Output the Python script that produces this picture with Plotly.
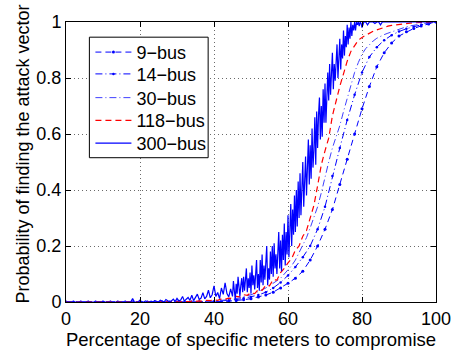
import plotly.graph_objects as go

# ---------------- data ----------------
x_ticks = [0, 20, 40, 60, 80, 100]
y_ticks = [0, 0.2, 0.4, 0.6, 0.8, 1]
y_ticktext = ["0", "0.2", "0.4", "0.6", "0.8", "1"]

series_names = ["9\u2212bus", "14\u2212bus", "30\u2212bus", "118\u2212bus", "300\u2212bus"]

# 9-bus, sampled every 2 %
p9 = [0, 0, 0, 0, 0, 0, 0, 0, 0, 0, 0, 0, 0, 0, 0, 0, 0, 0, 0, 0, 0.001,
      0.002, 0.003, 0.005, 0.008, 0.012, 0.018, 0.025, 0.035, 0.05, 0.067,
      0.085, 0.11, 0.15, 0.2, 0.26, 0.33, 0.42, 0.51, 0.6, 0.69,
      0.77, 0.84, 0.89, 0.925, 0.95, 0.965, 0.977, 0.986, 0.993, 1.0]

# 14-bus, sampled every 2 %
p14 = [0, 0, 0, 0, 0, 0, 0, 0, 0, 0, 0, 0, 0, 0, 0, 0, 0, 0, 0, 0,
       0.002, 0.004, 0.006, 0.009, 0.013, 0.018, 0.025, 0.035, 0.05, 0.07,
       0.095, 0.125, 0.16, 0.2, 0.26, 0.34, 0.45, 0.55, 0.65, 0.74,
       0.82, 0.875, 0.91, 0.935, 0.953, 0.966, 0.976, 0.984, 0.99, 0.995, 1.0]

# 30-bus, sampled every 1 %
p30 = [0, 0, 0, 0, 0, 0, 0, 0, 0, 0,
       0, 0, 0, 0, 0, 0, 0, 0, 0, 0,
       0, 0, 0, 0, 0, 0, 0, 0, 0, 0,
       0, 0, 0, 0, 0, 0.001, 0.001, 0.001, 0.002, 0.002,
       0.003, 0.004, 0.005, 0.006, 0.008, 0.01, 0.012, 0.015, 0.018, 0.022,
       0.026, 0.031, 0.037, 0.044, 0.05, 0.058, 0.066, 0.074, 0.085, 0.1,
       0.115, 0.13, 0.15, 0.175, 0.2, 0.23, 0.265, 0.3, 0.34, 0.39,
       0.45, 0.5, 0.55, 0.59, 0.63, 0.68, 0.73, 0.78, 0.82, 0.855,
       0.885, 0.905, 0.92, 0.932, 0.942, 0.95, 0.955, 0.96, 0.965, 0.97,
       0.975, 0.979, 0.983, 0.986, 0.989, 0.991, 0.993, 0.995, 0.997, 0.998, 1.0]

# 118-bus, sampled every 1 %
p118 = [0, 0, 0, 0, 0, 0, 0, 0, 0, 0,
        0, 0, 0, 0, 0, 0, 0, 0, 0, 0,
        0, 0, 0, 0, 0, 0, 0, 0, 0, 0,
        0.001, 0, 0.002, 0.001, 0.003, 0.002, 0.004, 0.003, 0.006, 0.005,
        0.008, 0.006, 0.011, 0.01, 0.014, 0.012, 0.02, 0.018, 0.026, 0.024,
        0.033, 0.03, 0.045, 0.042, 0.06, 0.058, 0.08, 0.078, 0.105, 0.12,
        0.14, 0.155, 0.185, 0.2, 0.235, 0.255, 0.3, 0.345, 0.415, 0.49,
        0.54, 0.585, 0.665, 0.72, 0.77, 0.815, 0.86, 0.895, 0.915, 0.935,
        0.945, 0.953, 0.96, 0.967, 0.972, 0.977, 0.981, 0.985, 0.988, 0.99,
        0.992, 0.994, 0.995, 0.996, 0.997, 0.998, 0.999, 0.999, 1.0, 1.0, 1.0]

# 300-bus: 0-44.5 % every 0.5 %
p300_lo = [0, 0, 0, 0, 0, 0, 0, 0, 0, 0,
           0, 0, 0, 0, 0, 0, 0, 0, 0, 0,
           0, 0, 0, 0, 0, 0, 0, 0, 0, 0,
           0, 0, 0, 0, 0, 0, 0.012, 0, 0, 0,
           0.007, 0, 0, 0.004, 0, 0, 0.003, 0, 0.005, 0.001,
           0, 0.006, 0.002, 0, 0.009, 0.003, 0, 0.004, 0.01, 0.002,
           0.013, 0.004, 0.007, 0.02, 0.003, 0.01, 0.016, 0.006, 0.024, 0.005,
           0.017, 0.028, 0.009, 0.014, 0.033, 0.011, 0.02, 0.042, 0.015, 0.026,
           0.058, 0.02, 0.034, 0.012, 0.05, 0.027, 0.068, 0.03, 0.018, 0.047]
# 300-bus: 45-79.75 % every 0.25 %
p300_mid = [0.02, 0.075, 0.04, 0.01, 0.065, 0.03, 0.09, 0.045,
            0.02, 0.06, 0.085, 0.035, 0.09, 0.04, 0.07, 0.12,
            0.035, 0.085, 0.05, 0.105, 0.03, 0.13, 0.06, 0.095,
            0.045, 0.12, 0.15, 0.05, 0.1, 0.04, 0.15, 0.07,
            0.17, 0.06, 0.13, 0.08, 0.15, 0.2, 0.06, 0.12,
            0.08, 0.18, 0.1, 0.2, 0.09, 0.21, 0.12, 0.17,
            0.1, 0.2, 0.25, 0.12, 0.22, 0.11, 0.24, 0.15,
            0.28, 0.13, 0.25, 0.17, 0.31, 0.16, 0.27, 0.35,
            0.2, 0.33, 0.24, 0.38, 0.25, 0.4, 0.27, 0.43,
            0.3, 0.46, 0.31, 0.42, 0.5, 0.34, 0.45, 0.52,
            0.38, 0.5, 0.58, 0.42, 0.56, 0.44, 0.62, 0.48,
            0.54, 0.66, 0.49, 0.68, 0.55, 0.67, 0.73, 0.58,
            0.7, 0.59, 0.76, 0.64, 0.78, 0.64, 0.74, 0.82,
            0.72, 0.85, 0.74, 0.81, 0.89, 0.76, 0.85, 0.79,
            0.87, 0.92, 0.8, 0.89, 0.94, 0.83, 0.92, 0.87,
            0.97, 0.88, 0.95, 0.91, 0.99, 0.92, 0.98, 0.94,
            1.0, 0.95, 0.99, 0.97, 1.0, 0.97, 1.0, 0.99,
            1.0, 0.985, 1.0, 0.995]
# 300-bus: 80-100 % every 0.5 %
p300_hi = [0.98, 1, 1, 0.99, 1, 1, 1, 0.995, 1, 1,
           0.99, 1, 1, 1, 1, 1, 1, 1, 1, 1,
           1, 1, 1, 1, 1, 1, 1, 1, 1, 1,
           1, 1, 1, 1, 1, 1, 1, 1, 1, 1, 1]

x9 = [2 * i for i in range(len(p9))]
x14 = [2 * i for i in range(len(p14))]
x30 = [i for i in range(len(p30))]
x118 = [i for i in range(len(p118))]
x300 = ([0.5 * i for i in range(len(p300_lo))]
        + [45 + 0.25 * i for i in range(len(p300_mid))]
        + [80 + 0.5 * i for i in range(len(p300_hi))])
p300 = p300_lo + p300_mid + p300_hi

# ---------------- figure ----------------
BLUE = "#0000FF"
RED = "#FF0000"
FONT = "Liberation Sans, Arial, Helvetica, sans-serif"

styles = [
    dict(mode="lines+markers", line=dict(color=BLUE, width=1, dash="6px,4px"),
         marker=dict(color=BLUE, size=3)),
    dict(mode="lines+markers", line=dict(color=BLUE, width=1, dash="7px,3px,1px,3px"),
         marker=dict(color=BLUE, size=2.5)),
    dict(mode="lines", line=dict(color="#3f3fff", width=1, dash="7px,3px,1px,3px")),
    dict(mode="lines", line=dict(color=RED, width=1.2, dash="6px,4px")),
    dict(mode="lines", line=dict(color=BLUE, width=1.2)),
]
xs = [x9, x14, x30, x118, x300]
ys = [p9, p14, p30, p118, p300]

fig = go.Figure()
legend_names = ["legend", "legend2", "legend3", "legend4", "legend5"]
for i in range(5):
    fig.add_trace(go.Scatter(x=xs[i], y=ys[i], name=series_names[i],
                             legend=legend_names[i], **styles[i]))

axis_common = dict(
    showline=True, linecolor="black", linewidth=1, mirror="ticks",
    ticks="inside", ticklen=5, tickcolor="black",
    showgrid=True, gridcolor="#6a6a6a", gridwidth=1, griddash="1px,3px",
    zeroline=False, tickfont=dict(family=FONT, size=18, color="black"),
)

# legend entries: one small legend per series, stacked inside a framed box
entry_y = [0.8915, 0.8136, 0.7288, 0.6475, 0.5661]
legend_layout = {}
for i, ln in enumerate(legend_names):
    legend_layout[ln] = dict(x=0.066, y=entry_y[i], xanchor="left", yanchor="middle",
                             bgcolor="rgba(0,0,0,0)", borderwidth=0,
                             font=dict(family=FONT, size=18, color="black"),
                             itemwidth=36)

fig.update_layout(
    width=463, height=356,
    margin=dict(l=66, r=17, t=12, b=49),
    paper_bgcolor="white", plot_bgcolor="white",
    font=dict(family=FONT, size=18, color="black"),
    xaxis=dict(range=[0, 100], tickvals=x_ticks, **axis_common,
               title=dict(text="Percentage of specific meters to compromise",
                          font=dict(family=FONT, size=18.5), standoff=2)),
    yaxis=dict(range=[0, 1], tickvals=y_ticks, ticktext=y_ticktext, **axis_common),
    annotations=[dict(text="Probability of finding the attack vector",
                      xref="paper", yref="paper", x=-0.1158, y=0.527,
                      xanchor="center", yanchor="middle", textangle=-90,
                      showarrow=False, font=dict(family=FONT, size=18, color="black"))],
    showlegend=True,
    shapes=[dict(type="rect", xref="paper", yref="paper",
                 x0=0.0632, x1=0.3842, y0=0.5153, y1=0.9458,
                 line=dict(color="black", width=1), fillcolor="white", layer="above")],
    **legend_layout,
)

fig.write_html("out.html")
